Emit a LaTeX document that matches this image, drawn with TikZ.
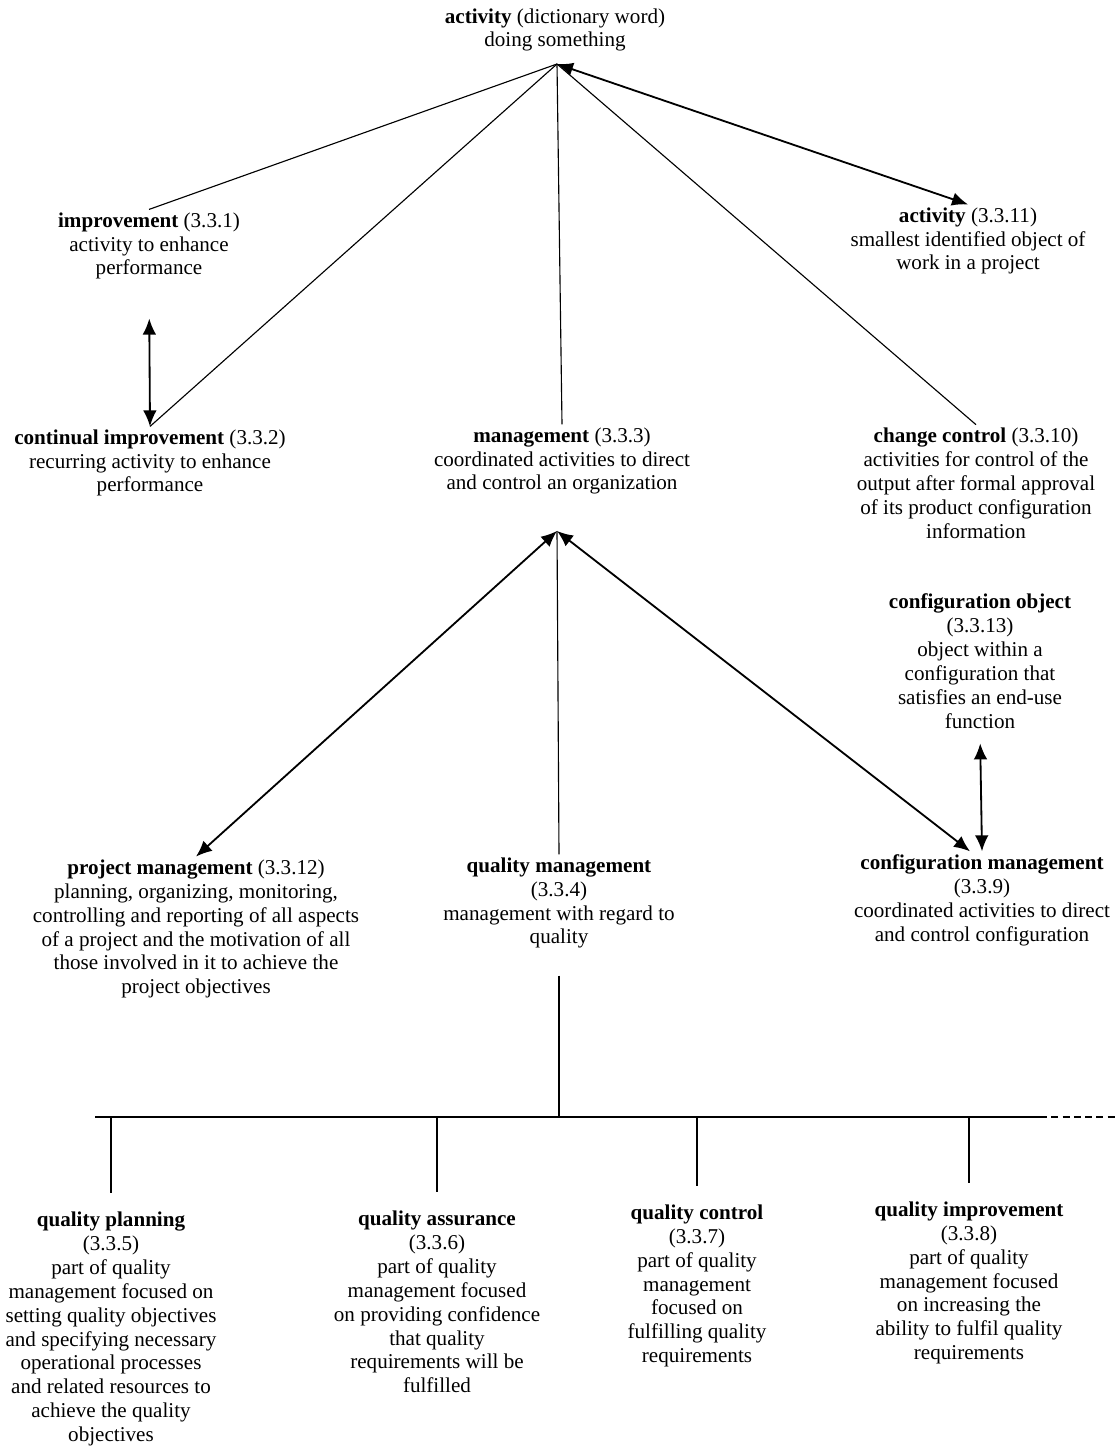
\documentclass[tikz,border=0pt]{standalone}
\usepackage{fontspec}
\setmainfont{Liberation Serif}
\usetikzlibrary{arrows.meta}
\tikzset{
  term/.style={align=center, inner sep=2pt, font=\fontsize{15}{17}\selectfont},
  link/.style={line width=0.8pt},
  both/.style={line width=1.3pt, {Latex[length=4mm,width=3.4mm]}-{Latex[length=4mm,width=3.4mm]}},
}
\begin{document}
\begin{tikzpicture}[x=0.025cm, y=-0.025cm, line join=round]
\useasboundingbox (0,0) rectangle (1118,1450);
\node[term] (dict) at (555,30) {\textbf{activity} (dictionary word)\\doing something};
\node[term] (impr) at (149,246) {\textbf{improvement} (3.3.1)\\activity to enhance\\performance};
\node[term] (cimp) at (150,463) {\textbf{continual improvement} (3.3.2)\\recurring activity to enhance\\performance};
\node[term] (mgmt) at (562,461) {\textbf{management} (3.3.3)\\coordinated activities to direct\\and control an organization};
\node[term] (act) at (968,241) {\textbf{activity} (3.3.11)\\smallest identified object of\\work in a project};
\node[term] (ctrl) at (976,483) {\textbf{change control} (3.3.10)\\activities for control of the\\output after formal approval\\of its product configuration\\information};
\node[term] (cobj) at (980,661) {\textbf{configuration object}\\(3.3.13)\\object within a\\configuration that\\satisfies an end-use\\function};
\node[term] (cm) at (982,900) {\textbf{configuration management}\\(3.3.9)\\coordinated activities to direct\\and control configuration};
\node[term] (pm) at (196,929) {\textbf{project management} (3.3.12)\\planning, organizing, monitoring,\\controlling and reporting of all aspects\\of a project and the motivation of all\\those involved in it to achieve the\\project objectives};
\node[term] (qm) at (559,903) {\textbf{quality management}\\(3.3.4)\\management with regard to\\quality};
\node[term] (qp) at (111,1329) {\textbf{quality planning}\\(3.3.5)\\part of quality\\management focused on\\setting quality objectives\\and specifying necessary\\operational processes\\and related resources to\\achieve the quality\\objectives};
\node[term] (qa) at (437,1302) {\textbf{quality assurance}\\(3.3.6)\\part of quality\\management focused\\on providing confidence\\that quality\\requirements will be\\fulfilled};
\node[term] (qc) at (697,1286) {\textbf{quality control}\\(3.3.7)\\part of quality\\management\\focused on\\fulfilling quality\\requirements};
\node[term] (qi) at (969,1283) {\textbf{quality improvement}\\(3.3.8)\\part of quality\\management focused\\on increasing the\\ability to fulfil quality\\requirements};
\coordinate (hubA) at (557,64);
\coordinate (hubB) at (557,531);
\coordinate (barL) at (95,1117);
\coordinate (barR) at (1040,1117);
\coordinate (barE) at (1118,1117);
\draw[link] (impr.north) -- (hubA);
\draw[link] (cimp.north) -- (hubA);
\draw[link] (mgmt.north) -- (hubA);
\draw[link] (ctrl.north) -- (hubA);
\draw[both] (hubA) -- (act.north);
\draw[both, shorten <=9mm] (impr.south) -- (cimp.north);
\draw[both] (hubB) -- (pm.north);
\draw[link] (qm.north) -- (hubB);
\draw[both] (hubB) -- ([xshift=-3mm]cm.north);
\draw[both, shorten <=3mm] (cobj.south) -- (cm.north);
\draw[link] (barL) -- (barR);
\draw[link, dash pattern=on 5pt off 3pt] (barR) -- (barE);
\draw[link, shorten <=6mm] (qm.south) -- (qm.south |- barL);
\foreach \n in {qp,qa,qc,qi}
  \draw[link, shorten >=4mm] (\n.north |- barL) -- (\n.north);
\end{tikzpicture}
\end{document}
